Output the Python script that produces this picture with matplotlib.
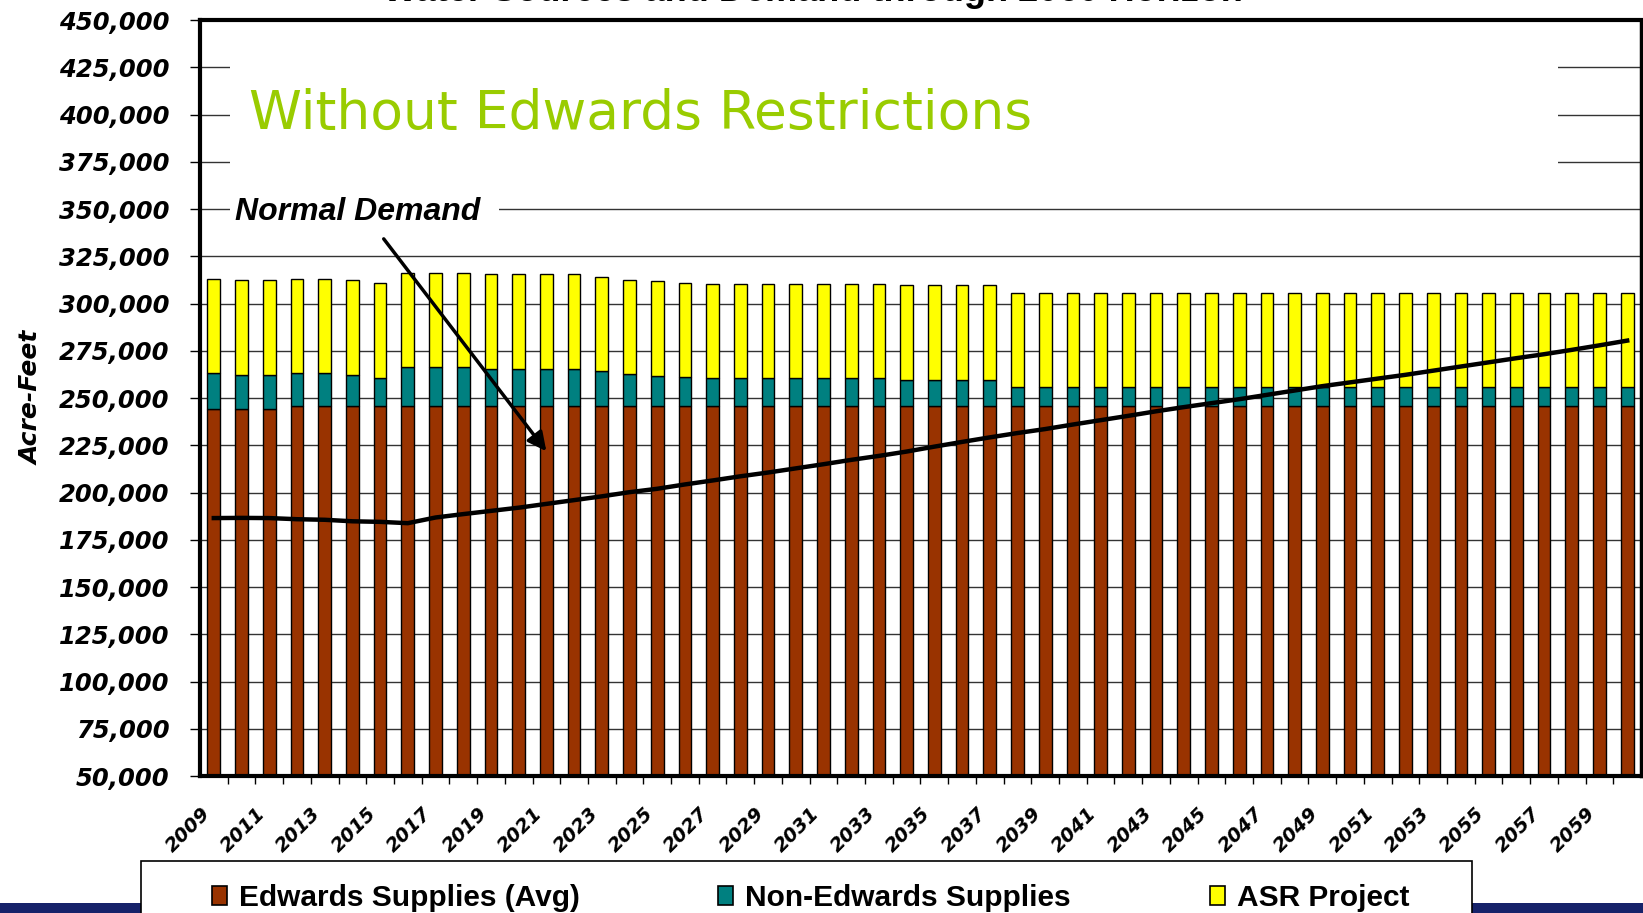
import numpy as np
import matplotlib.pyplot as plt
from matplotlib.patches import Rectangle
from matplotlib.ticker import FuncFormatter

years = list(range(2009, 2061))

edwards = [244400, 244400, 244400, 245800, 245800, 245800, 245800, 245800, 245800, 245800,
           245800, 245800, 245800, 245800, 245800, 245800, 245800, 245800, 245800, 245800,
           245800, 245800, 245800, 245800, 245800, 245800, 245800, 245800, 245800, 245800,
           245800, 245800, 245800, 245800, 245800, 245800, 245800, 245800, 245800, 245800,
           245800, 245800, 245800, 245800, 245800, 245800, 245800, 245800, 245800, 245800,
           245800, 245800]

non_edwards = [18800, 17900, 17900, 17400, 17400, 16500, 14900, 20500, 20500, 20500,
               19600, 19600, 19600, 19600, 18500, 16700, 16000, 15300, 14700, 14700,
               14700, 14700, 14700, 14700, 14700, 13800, 13800, 13800, 13800, 10000,
               10000, 10000, 10000, 10000, 10000, 10000, 10000, 10000, 10000, 10000,
               10000, 10000, 10000, 10000, 10000, 10000, 10000, 10000, 10000, 10000,
               10000, 10000]

asr = [50000, 50000, 50000, 50000, 50000, 50000, 50000, 50000, 50000, 50000,
       50000, 50000, 50000, 50000, 50000, 50000, 50000, 50000, 50000, 50000,
       50000, 50000, 50000, 50000, 50000, 50000, 50000, 50000, 50000, 50000,
       50000, 50000, 50000, 50000, 50000, 50000, 50000, 50000, 50000, 50000,
       50000, 50000, 50000, 50000, 50000, 50000, 50000, 50000, 50000, 50000,
       50000, 50000]

demand = [186500, 186600, 186500, 185900, 185600, 184800, 184500, 183800, 186800, 188600,
          190300, 192000, 194000, 196000, 198000, 200200, 202000, 204300, 206400, 208600,
          210600, 212800, 215000, 217300, 219400, 221700, 224300, 226800, 229200, 231500,
          233600, 236000, 238300, 240600, 243000, 245200, 247300, 249400, 251700, 254000,
          256300, 258300, 260300, 262300, 264500, 266700, 268900, 271100, 273200, 275500,
          277900, 280400]

series_names = ["Edwards Supplies (Avg)", "Non-Edwards Supplies", "ASR Project"]
series_colors = ["#993300", "#008080", "#FFFF00"]

fig = plt.figure(figsize=(16.43, 9.13), dpi=100)
ax = fig.add_axes([0.1217, 0.150, 0.8771, 0.828])

x = np.arange(len(years))
w = 0.46
ed = np.array(edwards)
ne = np.array(non_edwards)
ax.bar(x, ed, w, color=series_colors[0], edgecolor="black", lw=1, zorder=2)
ax.bar(x, ne, w, bottom=ed, color=series_colors[1], edgecolor="black", lw=1, zorder=2)
ax.bar(x, asr, w, bottom=ed + ne, color=series_colors[2], edgecolor="black", lw=1, zorder=2)
ax.plot(x, demand, color="black", lw=3.2, zorder=4, solid_joinstyle="round")

ax.set_xlim(-0.5, len(years) - 0.5)
ax.set_ylim(50000, 450000)
ax.set_yticks(range(50000, 450001, 25000))
ax.yaxis.set_major_formatter(FuncFormatter(lambda v, p: f"{int(v):,}"))
ax.yaxis.grid(True, color="#333333", lw=1)
ax.set_axisbelow(True)

ax.set_xticks(x[::2])
ax.set_xticklabels([str(y) for y in years[::2]], rotation=45, ha="right")
ax.set_xticks(x[:-1] + 0.5, minor=True)
ax.tick_params(axis="x", which="major", length=0, pad=20)
ax.tick_params(axis="x", which="minor", length=6, width=1)
ax.tick_params(axis="y", length=7, width=1, pad=15)
for lab in ax.get_yticklabels():
    lab.set_fontsize(17.5)
    lab.set_fontweight("bold")
    lab.set_fontstyle("italic")
for lab in ax.get_xticklabels():
    lab.set_fontsize(14)
    lab.set_fontweight("bold")
    lab.set_fontstyle("italic")

for s in ["left", "top", "bottom"]:
    ax.spines[s].set_linewidth(3)
ax.spines["right"].set_linewidth(2.5)

ax.set_ylabel("Acre-Feet", fontsize=18, fontweight="bold", fontstyle="italic", labelpad=11)

# white boxes behind the annotations (they hide the gridlines)
ax.add_patch(Rectangle((0.6, 362000), 47.9, 76000, facecolor="white", edgecolor="none", zorder=1))
ax.add_patch(Rectangle((0.6, 340000), 9.7, 20000, facecolor="white", edgecolor="none", zorder=1))

ax.text(1.27, 400500, "Without Edwards Restrictions", color="#99CC00", fontsize=38.5,
        family="DejaVu Sans", va="center", ha="left", zorder=5)
ax.text(0.77, 344200, "Normal Demand", fontsize=23, family="Liberation Sans",
        fontweight="bold", fontstyle="italic", va="baseline", ha="left", zorder=5)
ax.annotate("", xy=(12.06, 220700), xytext=(6.07, 335400),
            arrowprops=dict(arrowstyle="-|>", lw=2.5, color="black", mutation_scale=28),
            zorder=5)

# slide title, mostly above the visible area (only its lowest pixels show)
fig.text(0.495, 0.9985, "Water Sources and Demand through 2060 Horizon", fontsize=26,
         family="Liberation Sans", fontweight="bold", ha="center", va="baseline")

# slide background band and legend box
fig.patches.append(Rectangle((0, 0), 1, 0.011, transform=fig.transFigure,
                             facecolor="#16226a", edgecolor="none", zorder=0))
fig.patches.append(Rectangle((0.0858, -0.05), 0.8101, 0.107, transform=fig.transFigure,
                             facecolor="white", edgecolor="black", lw=1.2, zorder=1))
leg_x = [212 / 1643, 718 / 1643, 1210 / 1643]
for lx, name, col in zip(leg_x, series_names, series_colors):
    fig.patches.append(Rectangle((lx, 8 / 913), 15 / 1643, 19 / 913, transform=fig.transFigure,
                                 facecolor=col, edgecolor="black", lw=1.2, zorder=2))
    fig.text(lx + 27 / 1643, 7 / 913, name, fontsize=21.5, family="Liberation Sans",
             fontweight="bold", ha="left", va="baseline", zorder=3)

fig.savefig("out.png", dpi=100)
